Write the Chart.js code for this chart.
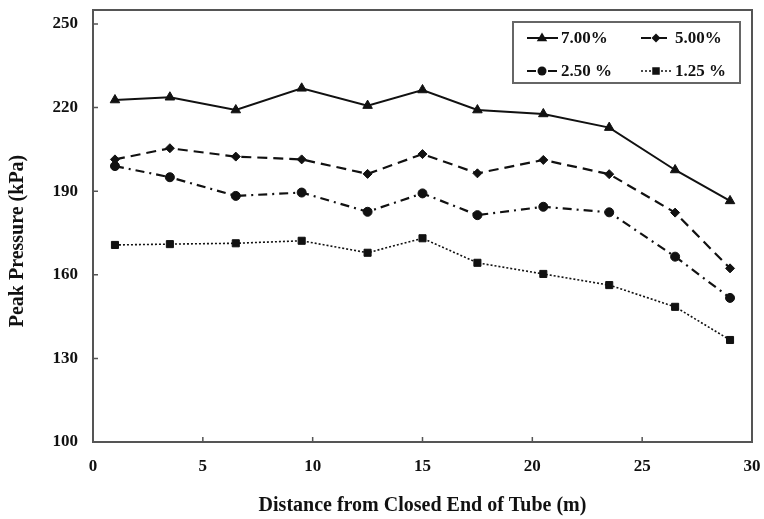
<!DOCTYPE html>
<html>
<head>
<meta charset="utf-8">
<script src="https://cdn.jsdelivr.net/npm/chart.js@4/dist/chart.umd.min.js"></script>
<style>
  html, body { margin: 0; padding: 0; background: #fff; }
  canvas { display: block; }
</style>
</head>
<body>
<canvas id="chart" width="764" height="519"></canvas>
<script>
// Distance along the tube (m) where each pressure transducer sits
const distances = [1, 3.5, 6.5, 9.5, 12.5, 15, 17.5, 20.5, 23.5, 26.5, 29];

// Peak pressure (kPa) for each gas concentration
const peak700 = [222.7, 223.7, 219.1, 226.9, 220.7, 226.3, 219.1, 217.7, 212.8, 197.6, 186.5];
const peak500 = [201.4, 205.4, 202.4, 201.4, 196.2, 203.3, 196.4, 201.2, 196.1, 182.3, 162.3];
const peak250 = [199.0, 195.0, 188.3, 189.5, 182.6, 189.2, 181.4, 184.4, 182.4, 166.5, 151.7];
const peak125 = [170.7, 171.0, 171.3, 172.2, 167.9, 173.1, 164.3, 160.3, 156.3, 148.5, 136.6];

const seriesLabels = ['7.00%', '5.00%', '2.50 %', '1.25 %'];
const yTickValues = [100, 130, 160, 190, 220, 250];
const xTickValues = [0, 5, 10, 15, 20, 25, 30];
const xTitle = 'Distance from Closed End of Tube (m)';
const yTitle = 'Peak Pressure (kPa)';

const FONT = '"Liberation Serif", "Times New Roman", serif';
const INK = '#111';
const AXIS = '#555';

function pairs(ys) {
  return distances.map((x, i) => ({ x: x, y: ys[i] }));
}

const styles = [
  { data: peak700, dash: [], width: 2, point: 'triangle', radius: 5.5 },
  { data: peak500, dash: [10, 6], width: 2.2, point: 'rectRot', radius: 4.5 },
  { data: peak250, dash: [9, 5, 2, 5], width: 2.2, point: 'circle', radius: 4.5 },
  { data: peak125, dash: [2, 2], width: 1.6, point: 'rect', radius: 5 }
];

const datasets = styles.map((s, i) => ({
  label: seriesLabels[i],
  data: pairs(s.data),
  borderColor: INK,
  backgroundColor: INK,
  borderWidth: s.width,
  borderDash: s.dash,
  pointStyle: s.point,
  pointRadius: s.radius,
  pointBackgroundColor: INK,
  pointBorderColor: INK,
  pointBorderWidth: 1,
  tension: 0,
  fill: false
}));

// Marker used in the legend box, same shapes as the plotted points
function drawMarker(ctx, style, r, x, y) {
  ctx.save();
  ctx.fillStyle = INK;
  ctx.beginPath();
  if (style === 'triangle') {
    ctx.moveTo(x, y - r);
    ctx.lineTo(x + r * 0.95, y + r * 0.6);
    ctx.lineTo(x - r * 0.95, y + r * 0.6);
    ctx.closePath();
  } else if (style === 'rectRot') {
    ctx.moveTo(x, y - r);
    ctx.lineTo(x + r, y);
    ctx.lineTo(x, y + r);
    ctx.lineTo(x - r, y);
    ctx.closePath();
  } else if (style === 'circle') {
    ctx.arc(x, y, r, 0, Math.PI * 2);
  } else {
    const h = r * 0.75;
    ctx.rect(x - h, y - h, h * 2, h * 2);
  }
  ctx.fill();
  ctx.restore();
}

const framePlugin = {
  id: 'frame',
  afterDraw(chart) {
    const { ctx, chartArea: a, scales } = chart;
    ctx.save();
    ctx.strokeStyle = AXIS;
    ctx.lineWidth = 2;
    // top and right edges of the plot frame
    ctx.beginPath();
    ctx.moveTo(a.left, a.top);
    ctx.lineTo(a.right, a.top);
    ctx.lineTo(a.right, a.bottom);
    ctx.stroke();
    // inward tick marks
    ctx.lineWidth = 1.5;
    ctx.beginPath();
    scales.x.ticks.forEach(t => {
      const px = scales.x.getPixelForValue(t.value);
      ctx.moveTo(px, a.bottom);
      ctx.lineTo(px, a.bottom - 5);
    });
    scales.y.ticks.forEach(t => {
      const py = scales.y.getPixelForValue(t.value);
      ctx.moveTo(a.left, py);
      ctx.lineTo(a.left + 5, py);
    });
    ctx.stroke();

    // vertical axis title
    ctx.save();
    ctx.translate(18, (a.top + a.bottom) / 2 + 15);
    ctx.rotate(-Math.PI / 2);
    ctx.font = 'bold 20px ' + FONT;
    ctx.fillStyle = INK;
    ctx.textAlign = 'center';
    ctx.textBaseline = 'middle';
    ctx.fillText(yTitle, 0, 0);
    ctx.restore();

    // legend box, two rows by two columns
    const box = { x: 513, y: 22, w: 227, h: 61 };
    ctx.fillStyle = '#fff';
    ctx.fillRect(box.x, box.y, box.w, box.h);
    ctx.strokeStyle = '#666';
    ctx.lineWidth = 2;
    ctx.strokeRect(box.x, box.y, box.w, box.h);

    const cols = [527, 641];
    const rows = [38, 71];
    ctx.font = 'bold 17px ' + FONT;
    ctx.textBaseline = 'middle';
    ctx.textAlign = 'left';
    chart.data.datasets.forEach((ds, i) => {
      const x0 = cols[i % 2];
      const y0 = rows[Math.floor(i / 2)];
      ctx.save();
      ctx.strokeStyle = INK;
      ctx.lineWidth = ds.borderWidth;
      ctx.setLineDash(ds.borderDash);
      ctx.beginPath();
      ctx.moveTo(x0, y0);
      ctx.lineTo(x0 + 31, y0);
      ctx.stroke();
      ctx.restore();
      drawMarker(ctx, ds.pointStyle, ds.pointRadius, x0 + 15, y0);
      ctx.fillStyle = INK;
      ctx.fillText(ds.label, x0 + 34, y0 + 1);
    });
    ctx.restore();
  }
};

new Chart(document.getElementById('chart'), {
  type: 'line',
  data: { datasets: datasets },
  plugins: [framePlugin],
  options: {
    responsive: false,
    animation: false,
    devicePixelRatio: 1,
    layout: { padding: { top: 10, right: 12, left: 0, bottom: 0 } },
    plugins: {
      legend: { display: false },
      tooltip: { enabled: false }
    },
    scales: {
      x: {
        type: 'linear',
        min: 0,
        max: 30,
        afterBuildTicks(scale) {
          scale.ticks = xTickValues.map(v => ({ value: v }));
        },
        afterFit(scale) {
          scale.height = 77;
          scale.paddingLeft = 0;
          scale.paddingRight = 0;
        },
        grid: { display: false, drawTicks: false },
        border: { display: true, color: AXIS, width: 2 },
        ticks: {
          color: INK,
          padding: 14,
          maxRotation: 0,
          font: { family: FONT, size: 17, weight: 'bold' }
        },
        title: {
          display: true,
          text: xTitle,
          color: INK,
          padding: { top: 4, bottom: 1 },
          font: { family: FONT, size: 20, weight: 'bold' }
        }
      },
      y: {
        type: 'linear',
        min: 100,
        max: 255,
        afterBuildTicks(scale) {
          scale.ticks = yTickValues.map(v => ({ value: v }));
        },
        afterFit(scale) {
          scale.width = 93;
          scale.paddingTop = 0;
          scale.paddingBottom = 0;
        },
        grid: { display: false, drawTicks: false },
        border: { display: true, color: AXIS, width: 2 },
        ticks: {
          color: INK,
          padding: 15,
          font: { family: FONT, size: 17, weight: 'bold' }
        }
      }
    }
  }
});
</script>
</body>
</html>
